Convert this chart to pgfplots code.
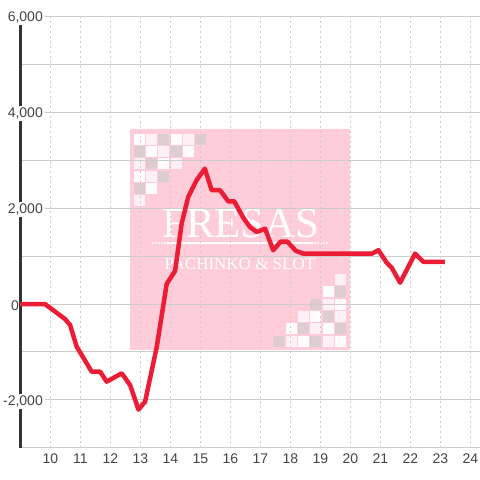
\documentclass[border=0pt]{standalone}
\usepackage{pgfplots}
\pgfplotsset{compat=1.18}
\usepackage{fontspec}
\setmainfont{Liberation Sans}
\newfontfamily\wmfont{Liberation Serif}
\definecolor{redline}{RGB}{236,28,52}
\definecolor{gridgray}{RGB}{204,204,204}
\definecolor{axisdark}{RGB}{51,51,51}
\definecolor{wmpink}{RGB}{255,204,218}
\definecolor{sqlight}{RGB}{255,240,248}
\definecolor{sqgray}{RGB}{221,204,208}
\definecolor{sqwhite}{RGB}{255,252,253}
\definecolor{ticktext}{RGB}{68,68,68}
\begin{document}
\begin{tikzpicture}
% background watermark (pixel coordinates of the 480x480 frame)
\begin{scope}[x=1pt,y=-1pt,shift={(-20.3pt,448pt)}]
\fill[wmpink] (130,129.3) rectangle (350,350);
\foreach \c/\r/\col in {0/0/sqwhite,1/0/sqlight,2/0/sqgray,3/0/sqwhite,4/0/sqlight,5/0/sqgray,
  0/1/sqgray,1/1/sqwhite,2/1/sqlight,3/1/sqgray,4/1/sqwhite,
  0/2/sqlight,1/2/sqgray,2/2/sqwhite,3/2/sqlight,
  0/3/sqwhite,1/3/sqlight,2/3/sqgray,
  0/4/sqgray,1/4/sqwhite,
  0/5/sqlight}
  {\fill[\col] (134+12.2*\c,134+12.2*\r) rectangle ++(11,11);}
\foreach \c/\r/\col in {5/0/sqlight,
  4/1/sqwhite,5/1/sqgray,
  3/2/sqgray,4/2/sqlight,5/2/sqwhite,
  2/3/sqlight,3/3/sqwhite,4/3/sqgray,5/3/sqlight,
  1/4/sqwhite,2/4/sqgray,3/4/sqlight,4/4/sqwhite,5/4/sqgray,
  0/5/sqgray,1/5/sqlight,2/5/sqwhite,3/5/sqgray,4/5/sqlight,5/5/sqwhite}
  {\fill[\col] (273.3+12.3*\c,274+12.35*\r) rectangle ++(11,11);}
\node[anchor=base,text=white,font=\wmfont\fontsize{43}{43}\selectfont,inner sep=0pt] at (241,238) {FRESAS};
\draw[white,line width=2pt] (167,243) -- (313,243);
\foreach \i in {0,...,4} {\fill[white] (153+3*\i,243) circle (1.1); \fill[white] (315+3*\i,243) circle (1.1);}
\node[anchor=base,text=white,font=\wmfont\fontsize{17}{17}\selectfont,inner sep=0pt] at (240,270) {PACHINKO \& SLOT};
\end{scope}
\begin{axis}[
  anchor=south west, at={(0pt,0pt)},
  width=459.7pt, height=432pt, scale only axis,
  xmin=9, xmax=24.323, ymin=-3000, ymax=6000,
  axis x line*=bottom, axis y line*=left,
  x axis line style={draw=none},
  y axis line style={draw=axisdark, line width=3pt},
  /pgf/number format/assume math mode=true,
  xtick={10,...,24},
  ytick={-2000,2000,4000,6000},
  yticklabels={{-2,000},{2,000},{4,000},{6,000}},
  minor ytick={-3000,-1000,1000,3000,5000},
  xmajorgrids, ymajorgrids, yminorgrids,
  major x grid style={gridgray, dash pattern=on 2pt off 3pt, line width=1pt},
  major y grid style={gridgray, line width=1pt},
  minor y grid style={gridgray, line width=1pt},
  major tick length=0pt, minor tick length=0pt,
  tick label style={font=\fontsize{14}{16}\selectfont, text=ticktext},
  xticklabel style={yshift=-2pt},
  yticklabel style={anchor=east, fill=white, inner sep=2pt, xshift=24.7pt, yshift=-1.5pt},
  extra y ticks={0}, extra y tick labels={0},
  extra y tick style={major grid style={draw=axisdark, line width=3pt, solid},
     yticklabel style={fill=none, xshift=-24pt}},
]
\addplot[redline, line width=4.5pt, line join=round, no marks] coordinates {
(9,0) (9.82,0) (10.49,-313) (10.66,-438) (10.88,-889) (11.38,-1410) (11.66,-1410)
(11.88,-1618) (12.38,-1444) (12.66,-1688) (12.94,-2200) (13.16,-2035) (13.55,-889)
(13.88,420) (14.16,690) (14.38,1680) (14.6,2236) (14.88,2583) (15.15,2820)
(15.38,2370) (15.66,2370) (15.93,2140) (16.13,2140) (16.45,1780) (16.66,1600)
(16.88,1500) (17.16,1570) (17.43,1120) (17.68,1300) (17.9,1300) (18.18,1110)
(18.43,1050) (20.72,1050) (20.94,1120) (21.21,862) (21.38,757) (21.66,444)
(22.16,1050) (22.43,880) (23.15,880)
};
\end{axis}
\pgfresetboundingbox
\path (-20.3pt,-32pt) rectangle (459.7pt,448pt);
\end{tikzpicture}
\end{document}
